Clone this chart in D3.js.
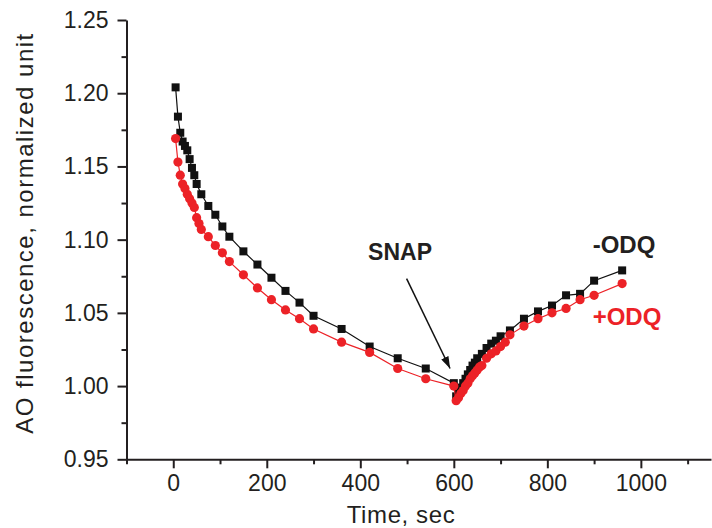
<!DOCTYPE html>
<html>
<head>
<meta charset="utf-8">
<script src="https://cdn.jsdelivr.net/npm/d3@7"></script>
<style>
  html, body { margin: 0; padding: 0; background: #fff; }
  svg { display: block; font-family: Arial, 'Liberation Sans', Helvetica, sans-serif; }
</style>
</head>
<body>
<div id="chart"></div>
<script>
// -ODQ (black squares): time, sec / AO fluorescence
const minusTime = [5, 10, 15, 20, 25, 30, 35, 40, 45, 50, 60, 75, 90, 105, 120, 150, 180, 210, 240, 270, 300, 360, 420, 480, 540, 600,
  605, 610, 615, 620, 625, 630, 635, 640, 645, 650, 660, 670, 680, 690, 700, 720, 750, 780, 810, 840, 870, 900, 960]
const minusValue = [1.204, 1.184, 1.173, 1.167, 1.164, 1.161, 1.155, 1.149, 1.144, 1.138, 1.131, 1.123, 1.117, 1.109, 1.102, 1.092, 1.083, 1.074, 1.065, 1.057, 1.048, 1.039, 1.027, 1.019, 1.012, 1.002,
  0.993, 0.996, 0.999, 1.002, 1.005, 1.008, 1.011, 1.014, 1.016, 1.019, 1.022, 1.026, 1.029, 1.031, 1.034, 1.038, 1.046, 1.051, 1.055, 1.062, 1.063, 1.072, 1.079]

// +ODQ (red circles)
const plusTime = [5, 10, 15, 20, 25, 30, 35, 40, 45, 50, 55, 60, 75, 90, 105, 120, 150, 180, 210, 240, 270, 300, 360, 420, 480, 540, 600,
  605, 610, 615, 620, 625, 630, 635, 640, 645, 650, 655, 660, 670, 680, 690, 700, 710, 720, 750, 780, 810, 840, 870, 900, 960]
const plusValue = [1.169, 1.153, 1.144, 1.138, 1.135, 1.131, 1.128, 1.125, 1.122, 1.115, 1.111, 1.107, 1.102, 1.096, 1.091, 1.085, 1.076, 1.067, 1.059, 1.052, 1.046, 1.039, 1.030, 1.023, 1.012, 1.005, 1.000,
  0.990, 0.992, 0.995, 0.997, 1.000, 1.002, 1.005, 1.007, 1.009, 1.011, 1.013, 1.014, 1.019, 1.022, 1.024, 1.027, 1.030, 1.035, 1.041, 1.046, 1.050, 1.053, 1.059, 1.062, 1.070]

const xTicks = [0, 200, 400, 600, 800, 1000]
const xMinor = [-100, 100, 300, 500, 700, 900, 1100]
const yTicks = [0.95, 1.00, 1.05, 1.10, 1.15, 1.20, 1.25]
const yMinor = [0.975, 1.025, 1.075, 1.125, 1.175, 1.225]

const BLACK = '#111111'
const RED = '#ec2227'
const TEXT = '#231f20'

const totalW = 712
const totalH = 528

const svg = d3.select('#chart')
  .append('svg')
  .attr('width', totalW)
  .attr('height', totalH)

// Scales (pixel ranges match the reference plot frame)
const x = d3.scaleLinear().domain([-100, 1150]).range([126.5, 711])
const y = d3.scaleLinear().domain([0.95, 1.25]).range([459.3, 20])

// Minor ticks
svg.append('g')
  .attr('transform', `translate(0,${y(0.95)})`)
  .call(d3.axisBottom(x).tickValues(xMinor).tickSize(5).tickFormat(''))
  .call(ax => ax.select('.domain').remove())
  .call(ax => ax.selectAll('line').attr('stroke', TEXT).attr('stroke-width', 2))

svg.append('g')
  .attr('transform', `translate(${x(-100)},0)`)
  .call(d3.axisLeft(y).tickValues(yMinor).tickSize(5).tickFormat(''))
  .call(ax => ax.select('.domain').remove())
  .call(ax => ax.selectAll('line').attr('stroke', TEXT).attr('stroke-width', 2))

// Major axes
svg.append('g')
  .attr('transform', `translate(0,${y(0.95)})`)
  .call(d3.axisBottom(x).tickValues(xTicks).tickSize(9).tickSizeOuter(0).tickPadding(6).tickFormat(d3.format('d')))
  .call(ax => ax.select('.domain').attr('stroke', TEXT).attr('stroke-width', 2))
  .call(ax => ax.selectAll('line').attr('stroke', TEXT).attr('stroke-width', 2))
  .call(ax => ax.selectAll('text').attr('fill', TEXT).attr('font-size', 23).attr('font-family', 'Arial, Liberation Sans, sans-serif'))

svg.append('g')
  .attr('transform', `translate(${x(-100)},0)`)
  .call(d3.axisLeft(y).tickValues(yTicks).tickSize(9).tickSizeOuter(0).tickPadding(9).tickFormat(d3.format('.2f')))
  .call(ax => ax.select('.domain').attr('stroke', TEXT).attr('stroke-width', 2))
  .call(ax => ax.selectAll('line').attr('stroke', TEXT).attr('stroke-width', 2))
  .call(ax => ax.selectAll('text').attr('fill', TEXT).attr('font-size', 23).attr('font-family', 'Arial, Liberation Sans, sans-serif'))

// Axis titles
svg.append('text')
  .attr('x', 401).attr('y', 523)
  .attr('text-anchor', 'middle')
  .attr('fill', TEXT).attr('font-size', 24)
  .attr('letter-spacing', 0.6)
  .text('Time, sec')

svg.append('text')
  .attr('transform', 'rotate(-90)')
  .attr('x', -233).attr('y', 33)
  .attr('text-anchor', 'middle')
  .attr('fill', TEXT).attr('font-size', 24)
  .attr('letter-spacing', 1.5)
  .text('AO fluorescence, normalized unit')

// Series
const minusData = minusTime.map((t, i) => ({ t, v: minusValue[i] }))
const plusData = plusTime.map((t, i) => ({ t, v: plusValue[i] }))

const line = d3.line().x(d => x(d.t)).y(d => y(d.v))

svg.append('path')
  .datum(minusData)
  .attr('fill', 'none')
  .attr('stroke', BLACK)
  .attr('stroke-width', 1.2)
  .attr('d', line)

svg.selectAll('.sq')
  .data(minusData)
  .enter().append('rect')
  .attr('class', 'sq')
  .attr('x', d => x(d.t) - 4)
  .attr('y', d => y(d.v) - 4)
  .attr('width', 8)
  .attr('height', 8)
  .attr('fill', BLACK)

svg.append('path')
  .datum(plusData)
  .attr('fill', 'none')
  .attr('stroke', RED)
  .attr('stroke-width', 1.2)
  .attr('d', line)

svg.selectAll('.dot')
  .data(plusData)
  .enter().append('circle')
  .attr('class', 'dot')
  .attr('cx', d => x(d.t))
  .attr('cy', d => y(d.v))
  .attr('r', 4.6)
  .attr('fill', RED)

// SNAP annotation with arrow
const defs = svg.append('defs')
defs.append('marker')
  .attr('id', 'arrow')
  .attr('viewBox', '0 0 12 8')
  .attr('refX', 12).attr('refY', 4)
  .attr('markerWidth', 12).attr('markerHeight', 8)
  .attr('markerUnits', 'userSpaceOnUse')
  .attr('orient', 'auto')
  .append('path')
  .attr('d', 'M0,0 L12,4 L0,8 Z')
  .attr('fill', BLACK)

svg.append('line')
  .attr('x1', x(499)).attr('y1', y(1.0734))
  .attr('x2', x(592)).attr('y2', y(1.012))
  .attr('stroke', BLACK)
  .attr('stroke-width', 1.5)
  .attr('marker-end', 'url(#arrow)')

svg.append('text')
  .attr('x', x(485)).attr('y', y(1.086))
  .attr('text-anchor', 'middle')
  .attr('fill', TEXT).attr('font-size', 23).attr('font-weight', 'bold')
  .text('SNAP')

svg.append('text')
  .attr('x', x(897)).attr('y', y(1.091))
  .attr('fill', TEXT).attr('font-size', 24).attr('font-weight', 'bold')
  .text('-ODQ')

svg.append('text')
  .attr('x', x(897)).attr('y', y(1.042))
  .attr('fill', RED).attr('font-size', 24).attr('font-weight', 'bold')
  .text('+ODQ')
</script>
</body>
</html>
